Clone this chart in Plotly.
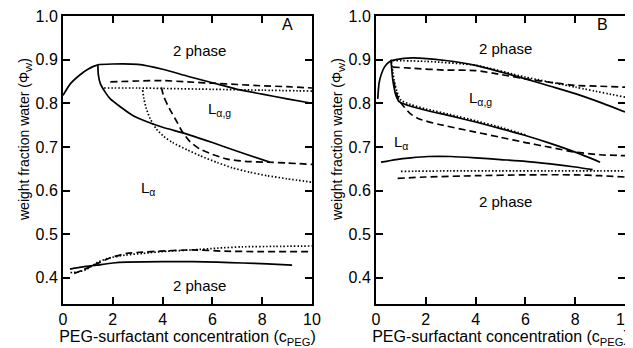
import plotly.graph_objects as go
from plotly.subplots import make_subplots

# ---------------- Panel A data ----------------
A_solid_up_x = [0.0, 0.3, 0.7, 1.0, 1.4, 2.0, 3.0, 4.0, 5.0, 6.0, 7.0, 8.0, 9.0, 10.0]
A_solid_up_y = [0.818, 0.845, 0.866, 0.878, 0.888, 0.890, 0.889, 0.878, 0.862, 0.847, 0.832, 0.821, 0.810, 0.800]
A_solid_lo_x = [1.4, 1.42, 1.5, 1.7, 1.9, 2.3, 2.8, 3.4, 4.0, 4.95, 6.0, 7.0, 8.3]
A_solid_lo_y = [0.888, 0.865, 0.845, 0.825, 0.810, 0.792, 0.772, 0.757, 0.745, 0.730, 0.710, 0.690, 0.665]
A_dash_up_x = [1.9, 3.0, 4.0, 5.0, 6.0, 7.0, 8.0, 9.0, 10.0]
A_dash_up_y = [0.849, 0.851, 0.852, 0.849, 0.846, 0.843, 0.840, 0.838, 0.835]
A_dash_cv_x = [3.95, 4.05, 4.28, 4.55, 4.8, 5.1, 5.5, 6.0, 6.6, 7.3, 8.2, 9.0, 10.0]
A_dash_cv_y = [0.836, 0.815, 0.787, 0.760, 0.734, 0.712, 0.695, 0.683, 0.672, 0.667, 0.665, 0.663, 0.660]
A_dot_up_x = [1.65, 3.0, 4.0, 6.0, 8.0, 10.0]
A_dot_up_y = [0.835, 0.835, 0.834, 0.832, 0.830, 0.828]
A_dot_cv_x = [3.2, 3.25, 3.35, 3.5, 3.75, 4.05, 4.4, 5.0, 5.5, 6.2, 6.8, 7.5, 8.2, 9.0, 10.0]
A_dot_cv_y = [0.830, 0.810, 0.787, 0.765, 0.741, 0.724, 0.710, 0.693, 0.680, 0.664, 0.652, 0.642, 0.634, 0.627, 0.619]
A_solid_bot_x = [0.28, 0.8, 1.35, 2.0, 2.56, 4.0, 5.2, 6.2, 7.2, 8.2, 9.2]
A_solid_bot_y = [0.420, 0.425, 0.429, 0.434, 0.436, 0.437, 0.437, 0.436, 0.434, 0.432, 0.429]
A_dash_bot_x = [0.45, 0.8, 1.0, 1.35, 1.9, 2.56, 3.2, 3.9, 5.2, 6.5, 7.9, 10.0]
A_dash_bot_y = [0.410, 0.418, 0.423, 0.432, 0.446, 0.456, 0.459, 0.461, 0.464, 0.461, 0.460, 0.460]
A_dot_bot_x = [0.3, 0.55, 0.9, 1.1, 1.4, 1.9, 2.5, 3.2, 4.2, 5.2, 6.2, 7.2, 8.5, 10.0]
A_dot_bot_y = [0.412, 0.413, 0.418, 0.425, 0.436, 0.446, 0.452, 0.456, 0.461, 0.464, 0.468, 0.471, 0.472, 0.473]

# ---------------- Panel B data ----------------
B_solid_up_x = [0.07, 0.12, 0.2, 0.35, 0.54, 0.8, 1.47, 2.8, 4.0, 5.0, 6.0, 7.0, 8.0, 9.0, 10.0]
B_solid_up_y = [0.810, 0.845, 0.864, 0.884, 0.895, 0.900, 0.904, 0.898, 0.887, 0.872, 0.856, 0.839, 0.822, 0.802, 0.780]
B_solid_lo_x = [0.6, 0.63, 0.67, 0.73, 0.8, 0.94, 1.3, 2.0, 3.0, 4.0, 5.0, 6.0, 7.0, 8.0, 9.0]
B_solid_lo_y = [0.900, 0.880, 0.856, 0.835, 0.818, 0.803, 0.795, 0.784, 0.771, 0.757, 0.742, 0.726, 0.708, 0.688, 0.665]
B_dot_up_x = [0.67, 2.0, 4.0, 6.0, 8.0, 10.0]
B_dot_up_y = [0.898, 0.896, 0.887, 0.860, 0.837, 0.814]
B_dot_lo_x = [0.62, 0.68, 0.74, 0.85, 1.0, 1.4, 2.0, 3.0, 4.0, 5.0, 6.0]
B_dot_lo_y = [0.895, 0.870, 0.849, 0.825, 0.807, 0.797, 0.787, 0.774, 0.760, 0.745, 0.728]
B_dash_up_x = [0.67, 1.5, 2.8, 4.0, 5.0, 6.0, 7.0, 8.0, 9.0, 10.0]
B_dash_up_y = [0.883, 0.880, 0.876, 0.875, 0.866, 0.856, 0.848, 0.841, 0.839, 0.837]
B_dash_lo_x = [0.72, 0.8, 0.95, 1.14, 1.4, 1.74, 2.5, 4.0, 5.0, 6.0, 7.0, 8.0, 9.0, 10.0]
B_dash_lo_y = [0.850, 0.825, 0.805, 0.791, 0.775, 0.764, 0.752, 0.734, 0.722, 0.710, 0.699, 0.688, 0.682, 0.680]
B_solid_bot_x = [0.2, 0.8, 1.4, 2.1, 3.0, 4.0, 5.0, 6.0, 7.0, 8.0, 8.7]
B_solid_bot_y = [0.665, 0.671, 0.675, 0.678, 0.678, 0.675, 0.671, 0.667, 0.661, 0.654, 0.648]
B_dot_bot_x = [1.0, 3.0, 5.0, 7.0, 9.0, 10.0]
B_dot_bot_y = [0.644, 0.645, 0.645, 0.645, 0.645, 0.645]
B_dash_bot_x = [0.87, 2.0, 4.0, 6.0, 8.0, 9.0, 10.0]
B_dash_bot_y = [0.628, 0.631, 0.634, 0.636, 0.636, 0.634, 0.631]

# ---------------- Labels ----------------
x_ticks = [0, 2, 4, 6, 8, 10]
y_ticks = [0.4, 0.5, 0.6, 0.7, 0.8, 0.9, 1.0]
x_title = "PEG-surfactant concentration (c<sub>PEG</sub>)"
y_title = "weight fraction water (Φ<sub>W</sub>)"

annot_A = [("A", 9.0, 0.98), ("2 phase", 5.5, 0.922), ("L<sub>α,g</sub>", 6.3, 0.785),
           ("L<sub>α</sub>", 3.4, 0.605), ("2 phase", 5.5, 0.382)]
annot_B = [("B", 9.1, 0.98), ("2 phase", 5.2, 0.925), ("L<sub>α,g</sub>", 4.2, 0.81),
           ("L<sub>α</sub>", 1.0, 0.71), ("2 phase", 5.2, 0.575)]

FONT = "Liberation Sans, Arial, sans-serif"
DASH = "7px,4px"
DOT = "1.5px,2px"

# page body offsets the figure by 8 px; layout below is in screen pixels
W, H, OFF = 633, 348, 8
def px(sx):
    return (sx - OFF) / W
def py(sy):
    return 1 - (sy - OFF) / H

fig = make_subplots(rows=1, cols=2)

def add(x, y, col, dash, width=1.7):
    fig.add_trace(go.Scatter(x=x, y=y, mode="lines", line=dict(color="black", width=width, dash=dash,
                                                                 shape="spline", smoothing=0.6),
                             showlegend=False, hoverinfo="skip"), row=1, col=col)

add(A_solid_up_x, A_solid_up_y, 1, "solid")
add(A_solid_lo_x, A_solid_lo_y, 1, "solid")
add(A_dash_up_x, A_dash_up_y, 1, DASH)
add(A_dash_cv_x, A_dash_cv_y, 1, DASH)
add(A_dot_up_x, A_dot_up_y, 1, DOT)
add(A_dot_cv_x, A_dot_cv_y, 1, DOT)
add(A_solid_bot_x, A_solid_bot_y, 1, "solid")
add(A_dash_bot_x, A_dash_bot_y, 1, DASH)
add(A_dot_bot_x, A_dot_bot_y, 1, DOT)

add(B_solid_up_x, B_solid_up_y, 2, "solid")
add(B_solid_lo_x, B_solid_lo_y, 2, "solid")
add(B_dot_up_x, B_dot_up_y, 2, DOT)
add(B_dot_lo_x, B_dot_lo_y, 2, DOT)
add(B_dash_up_x, B_dash_up_y, 2, DASH)
add(B_dash_lo_x, B_dash_lo_y, 2, DASH)
add(B_solid_bot_x, B_solid_bot_y, 2, "solid")
add(B_dot_bot_x, B_dot_bot_y, 2, DOT)
add(B_dash_bot_x, B_dash_bot_y, 2, DASH)

for txt, x, y in annot_A:
    fig.add_annotation(text=txt, x=x, y=y, xref="x", yref="y", showarrow=False,
                       font=dict(size=16 if len(txt) == 1 else 15, family=FONT, color="black"))
for txt, x, y in annot_B:
    fig.add_annotation(text=txt, x=x, y=y, xref="x2", yref="y2", showarrow=False,
                       font=dict(size=16 if len(txt) == 1 else 15, family=FONT, color="black"))

# y-axis titles as rotated annotations
for sx in (25, 338):
    fig.add_annotation(text=y_title, x=px(sx), y=py(140), xref="paper", yref="paper",
                       showarrow=False, textangle=-90, xanchor="center", yanchor="middle",
                       font=dict(size=14, family=FONT, color="black"))

axis_common = dict(showgrid=False, zeroline=False, showline=True, linecolor="black", linewidth=2,
                   mirror="allticks", ticks="inside", ticklen=7, tickwidth=1.5, tickcolor="black",
                   tickfont=dict(size=16, family=FONT, color="black"), automargin=False,
                   ticklabeloverflow="allow")

ydom = [py(304), py(16)]
fig.update_xaxes(**axis_common, range=[0, 10], tickvals=x_ticks,
                 title=dict(text=x_title, font=dict(size=16, family=FONT, color="black"), standoff=0))
fig.update_yaxes(**axis_common, range=[0.34, 1.0], tickvals=y_ticks, tickformat=".1f")
fig.update_layout(
    xaxis=dict(domain=[px(63), px(312)]),
    xaxis2=dict(domain=[px(376), px(625)]),
    yaxis=dict(domain=ydom),
    yaxis2=dict(domain=ydom),
    width=W, height=H,
    margin=dict(l=0, r=0, t=0, b=0),
    plot_bgcolor="white", paper_bgcolor="white",
)

fig.write_html("out.html")
